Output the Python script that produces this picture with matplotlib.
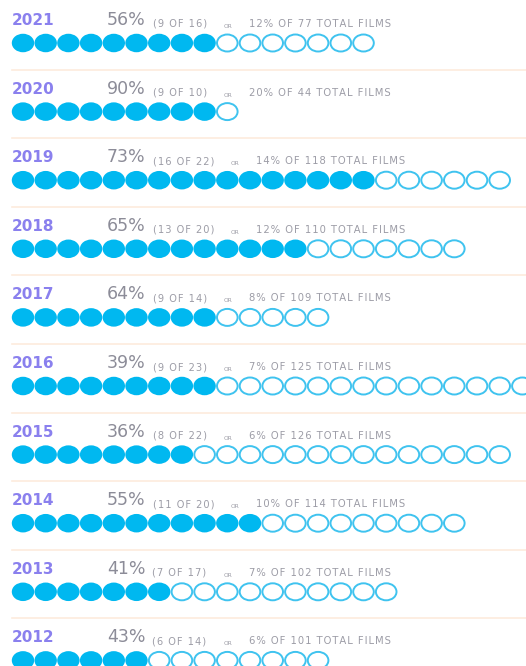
"""
Women-directed share per year, drawn as rows of dots (filled = share, hollow = rest).
"""
import matplotlib
matplotlib.use("Agg")
import matplotlib.pyplot as plt
from matplotlib.patches import Ellipse

YEARS = ["2021", "2020", "2019", "2018", "2017", "2016", "2015", "2014", "2013", "2012"]
PCT = ["56%", "90%", "73%", "65%", "64%", "39%", "36%", "55%", "41%", "43%"]
FILLED = [9, 9, 16, 13, 9, 9, 8, 11, 7, 6]
TOTAL = [16, 10, 22, 20, 14, 23, 22, 20, 17, 14]
SHARE_OF_ALL = ["12%", "20%", "14%", "12%", "8%", "7%", "6%", "10%", "7%", "6%"]
ALL_FILMS = [77, 44, 118, 110, 109, 125, 126, 114, 102, 101]

W, H = 526, 666
ROW_H = 68.6
FILL_C = "#00b8f0"
EDGE_C = "#3fc3ef"
YEAR_C = "#8a80ee"
PCT_C = "#8c8c98"
SMALL_C = "#9c9ca6"
SEP_C = "#fdebdd"
FONT = "DejaVu Sans"


def tracked(s: str) -> str:
    # wide letter spacing like the source's small caps
    return "\u200a".join(s)


def main() -> None:
    fig = plt.figure(figsize=(W / 100, H / 100), dpi=100)
    ax = fig.add_axes([0, 0, 1, 1])
    ax.set_xlim(0, W)
    ax.set_ylim(H, 0)
    ax.axis("off")

    for i, year in enumerate(YEARS):
        y0 = i * ROW_H
        base = y0 + 25

        ax.text(12, base, year, color=YEAR_C, fontsize=11, fontweight="bold",
                family=FONT, va="baseline", ha="left")
        t = ax.text(107, base, PCT[i], color=PCT_C, fontsize=12.5,
                    family=FONT, va="baseline", ha="left")
        t = ax.annotate(tracked(f"({FILLED[i]} OF {TOTAL[i]})"), xy=(1, 0),
                        xycoords=t, xytext=(5, 0), textcoords="offset points",
                        color=SMALL_C, fontsize=7.1, family=FONT,
                        va="bottom", ha="left")
        t = ax.annotate("OR", xy=(1, 0), xycoords=t,
                        xytext=(12, 0), textcoords="offset points",
                        color=SMALL_C, fontsize=4.2, family=FONT,
                        va="bottom", ha="left")
        ax.annotate(tracked(f"{SHARE_OF_ALL[i]} OF {ALL_FILMS[i]} TOTAL FILMS"),
                    xy=(1, 0), xycoords=t, xytext=(12, 0),
                    textcoords="offset points", color=SMALL_C, fontsize=7.2,
                    family=FONT, va="bottom", ha="left")

        cy = y0 + 43
        for k in range(TOTAL[i]):
            cx = 23 + k * 22.7
            if k < FILLED[i]:
                ax.add_patch(Ellipse((cx, cy), 22.4, 18.5, facecolor=FILL_C,
                                     edgecolor="none"))
            else:
                ax.add_patch(Ellipse((cx, cy), 20.6, 17, facecolor="white",
                                     edgecolor=EDGE_C, linewidth=1.4))

        if i < len(YEARS) - 1:
            ax.plot([12, W], [y0 + 69.5, y0 + 69.5], color=SEP_C, lw=1.2)

    fig.savefig("out.png", dpi=100)


if __name__ == "__main__":
    main()
